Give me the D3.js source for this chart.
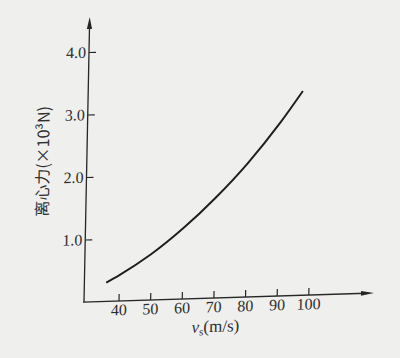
<!DOCTYPE html>
<html>
<head>
<meta charset="utf-8">
<script src="https://cdn.jsdelivr.net/npm/d3@7"></script>
<style>
  html, body { margin: 0; padding: 0; background: #efefed; }
  svg { display: block; }
  .tick text { font-family: "Liberation Serif", "DejaVu Serif", serif; font-size: 16px; fill: #2e2e2e; }
</style>
</head>
<body>
<svg id="chart" width="400" height="358"></svg>
<script>
// ---- data ----
const speeds = [36, 40, 50, 60, 70, 80, 90, 97];                 // v_s (m/s)
const forces = [0.30, 0.41, 0.73, 1.13, 1.60, 2.14, 2.77, 3.27]; // centrifugal force (x10^3 N)
const xTickValues = [40, 50, 60, 70, 80, 90, 100];
const yTickValues = [1.0, 2.0, 3.0, 4.0];
const yTitle = "离心力(×10³N)";
const xTitleVar = "v";
const xTitleSub = "s";
const xTitleUnit = "(m/s)";

const svg = d3.select("#chart");
svg.append("rect").attr("width", 400).attr("height", 358).attr("fill", "#efefed");

// slight skew to mimic the scanned page
const g = svg.append("g")
  .attr("transform", "translate(84,302) matrix(1,-0.031,-0.02,1,0,0)");

const x = d3.scaleLinear().domain([40, 100]).range([34.5, 224.3]);
const y = d3.scaleLinear().domain([0, 4]).range([0, -250]);

const ink = "#262626";

// axis lines with arrows
g.append("line").attr("x1", 0).attr("y1", 0).attr("x2", 0).attr("y2", -278)
  .attr("stroke", ink).attr("stroke-width", 1.3);
g.append("path").attr("d", "M0,-285 L-2.6,-273 L2.6,-273 Z").attr("fill", ink);

g.append("line").attr("x1", -1).attr("y1", 0).attr("x2", 282).attr("y2", 0)
  .attr("stroke", ink).attr("stroke-width", 1.3);
g.append("path").attr("d", "M290,0 L277,-2.4 L277,2.4 Z").attr("fill", ink);

// x axis ticks (ticks point up, labels below)
const xAxis = d3.axisBottom(x).tickValues(xTickValues)
  .tickSizeInner(-7).tickSizeOuter(0).tickPadding(3).tickFormat(d3.format("d"));
const gx = g.append("g").call(xAxis);
gx.select(".domain").remove();
gx.selectAll(".tick line").attr("stroke", ink).attr("stroke-width", 1.2);

// y axis ticks (ticks point right, labels left)
const yAxis = d3.axisLeft(y).tickValues(yTickValues)
  .tickSizeInner(-7).tickSizeOuter(0).tickPadding(3).tickFormat(d3.format(".1f"));
const gy = g.append("g").call(yAxis);
gy.select(".domain").remove();
gy.selectAll(".tick line").attr("stroke", ink).attr("stroke-width", 1.2);

// curve
const line = d3.line().x((d, i) => x(speeds[i])).y(d => y(d)).curve(d3.curveMonotoneX);
g.append("path").datum(forces)
  .attr("d", line)
  .attr("fill", "none").attr("stroke", "#1e1e1e").attr("stroke-width", 2);

// y title
g.append("text")
  .attr("transform", "translate(-45,-142) rotate(-90)")
  .attr("text-anchor", "middle")
  .attr("dominant-baseline", "central")
  .attr("font-family", "'Noto Sans CJK SC', 'Liberation Serif', serif")
  .attr("font-size", 16)
  .attr("fill", "#2e2e2e")
  .text(yTitle);

// x title
const xt = g.append("text")
  .attr("x", 132).attr("y", 34)
  .attr("text-anchor", "middle")
  .attr("font-family", "'Liberation Serif', serif")
  .attr("font-size", 17)
  .attr("fill", "#2e2e2e");
xt.append("tspan").attr("font-style", "italic").text(xTitleVar);
xt.append("tspan").attr("font-size", 11).attr("dy", 3).text(xTitleSub);
xt.append("tspan").attr("dy", -3).text(xTitleUnit);
</script>
</body>
</html>
